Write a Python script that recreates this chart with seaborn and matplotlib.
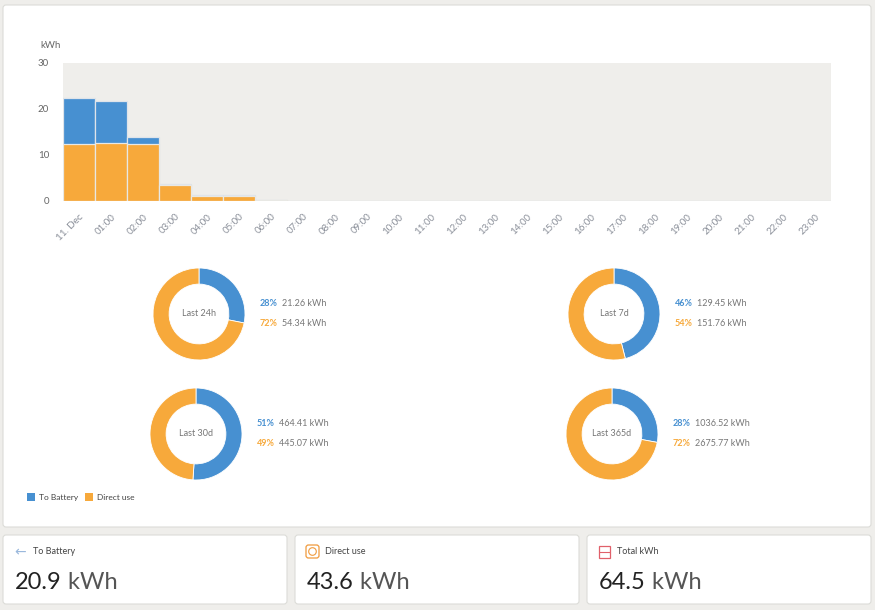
import matplotlib
matplotlib.use("Agg")
import matplotlib.pyplot as plt
import seaborn as sns
from matplotlib.patches import Rectangle, FancyBboxPatch, Circle

# ---- data ----
hour_labels = ["11. Dec"] + ["%02d:00" % h for h in range(1, 24)]
to_battery = [9.8, 9.0, 1.4, 0.3, 0.1, 0.3, 0.0] + [0.0] * 17
direct_use = [12.5, 12.7, 12.5, 3.5, 1.1, 1.1, 0.2] + [0.0] * 17

donut_titles = ["Last 24h", "Last 7d", "Last 30d", "Last 365d"]
donut_battery = [21.26, 129.45, 464.41, 1036.52]
donut_direct = [54.34, 151.76, 445.07, 2675.77]

card_titles = ["To Battery", "Direct use", "Total kWh"]
card_values = ["20.9", "43.6", "64.5"]

BLUE = "#4790d1"
ORANGE = "#f7a93b"
GREY_TXT = "#8a8f99"
W, H = 875, 610

sns.set_theme(style="white")
plt.rcParams["font.family"] = ["Lato", "DejaVu Sans"]

fig = plt.figure(figsize=(W / 100, H / 100), dpi=100)
fig.patch.set_facecolor("#efeeeb")


def px_axes(x, y, w, h, z=2):
    return fig.add_axes([x / W, 1 - (y + h) / H, w / W, h / H], zorder=z)


# background canvas with the white cards
canvas = px_axes(0, 0, W, H, z=0)
canvas.set_xlim(0, W)
canvas.set_ylim(H, 0)
canvas.axis("off")
for (cx, cy, cw, ch) in [(3, 5, 868, 522), (3, 535, 284, 69),
                         (295, 535, 284, 69), (587, 535, 284, 69)]:
    canvas.add_patch(FancyBboxPatch((cx, cy), cw, ch, boxstyle="round,pad=0,rounding_size=3",
                                    fc="white", ec="#dcdcd8", lw=0.8))

# ---- stacked bar chart ----
ax = px_axes(63, 63, 768, 138)
totals = [b + d for b, d in zip(to_battery, direct_use)]
sns.barplot(x=hour_labels, y=totals, color=BLUE, saturation=1, width=1,
            edgecolor="#dfe4ea", linewidth=0.9, ax=ax)
sns.barplot(x=hour_labels, y=direct_use, color=ORANGE, saturation=1, width=1,
            edgecolor="#e8e8e4", linewidth=0.9, ax=ax)
ax.set_facecolor("#efeeeb")
ax.set_xlim(-0.5, 23.5)
ax.set_ylim(0, 30)
ax.set_yticks([0, 10, 20, 30])
ax.set_xlabel("")
ax.set_ylabel("")
for s in ax.spines.values():
    s.set_visible(False)
ax.tick_params(axis="y", length=0, labelsize=7, labelcolor="#666666", pad=10)
ax.tick_params(axis="x", length=5, width=1, color="#ccd6eb", labelsize=7,
               labelcolor=GREY_TXT, pad=3)
plt.setp(ax.get_xticklabels(), rotation=45, ha="right", rotation_mode="anchor")
canvas.text(40, 45, "kWh", fontsize=7, color="#666666", va="center")

# ---- donuts ----
centers = [(199, 314), (614, 314), (196, 434), (612, 434)]
for (cx, cy), title, b, d in zip(centers, donut_titles, donut_battery, donut_direct):
    r = 46
    dax = px_axes(cx - r * 1.1, cy - r * 1.1, r * 2.2, r * 2.2)
    dax.pie([b, d], colors=[BLUE, ORANGE], startangle=90, counterclock=False,
            radius=1, wedgeprops=dict(width=0.35, edgecolor="white", linewidth=0.6))
    dax.set_xlim(-1.1, 1.1)
    dax.set_ylim(-1.1, 1.1)
    dax.set_aspect("equal")
    dax.text(0, 0, title, ha="center", va="center", fontsize=6.5, color="#777777")
    total = b + d
    pb = round(100 * b / total)
    pd_ = 100 - pb
    tx = cx + 61
    for dy, pct, val, col in [(-11, pb, b, BLUE), (9, pd_, d, ORANGE)]:
        t = canvas.text(tx, cy + dy, "%d%%" % pct, color=col, fontsize=6.5,
                        va="center", fontweight="bold")
        canvas.annotate("%.2f kWh" % val, xycoords=t, xy=(1, 0.5), xytext=(3, 0),
                        textcoords="offset points", color="#777777", fontsize=6.5,
                        va="center")

# ---- legend ----
canvas.add_patch(Rectangle((27, 493), 8, 8, fc=BLUE, ec="none"))
canvas.text(39, 497.5, "To Battery", fontsize=6, color="#444444", va="center")
canvas.add_patch(Rectangle((85, 493), 8, 8, fc=ORANGE, ec="none"))
canvas.text(97, 497.5, "Direct use", fontsize=6, color="#444444", va="center")

# ---- bottom cards ----
card_x = [3, 295, 587]
for i, (x0, title, val) in enumerate(zip(card_x, card_titles, card_values)):
    if i == 0:
        canvas.text(14, 552, "\u2190", fontsize=10, color="#9ab8dc", va="center",
                    family="DejaVu Sans")
    elif i == 1:
        canvas.add_patch(FancyBboxPatch((306, 545), 13, 13, boxstyle="round,pad=0,rounding_size=2.5",
                                        fc="none", ec="#f09a3c", lw=0.9))
        canvas.add_patch(Circle((312.5, 551.5), 3.8, fc="none", ec="#f09a3c", lw=0.8))
    else:
        canvas.add_patch(Rectangle((599, 546), 11, 12, fc="none", ec="#e0606a", lw=0.9))
        canvas.plot([599, 610], [552, 552], color="#e0606a", lw=0.8)
    canvas.text(x0 + 30, 552, title, fontsize=6.5, color="#444444", va="center")
    t = canvas.text(x0 + 12, 589, val, fontsize=17, color="#222222", va="baseline")
    canvas.annotate(" kWh", xycoords=t, xy=(1, 0), fontsize=17, color="#555555",
                    va="bottom")

fig.savefig("out.png", dpi=100, facecolor=fig.get_facecolor())
